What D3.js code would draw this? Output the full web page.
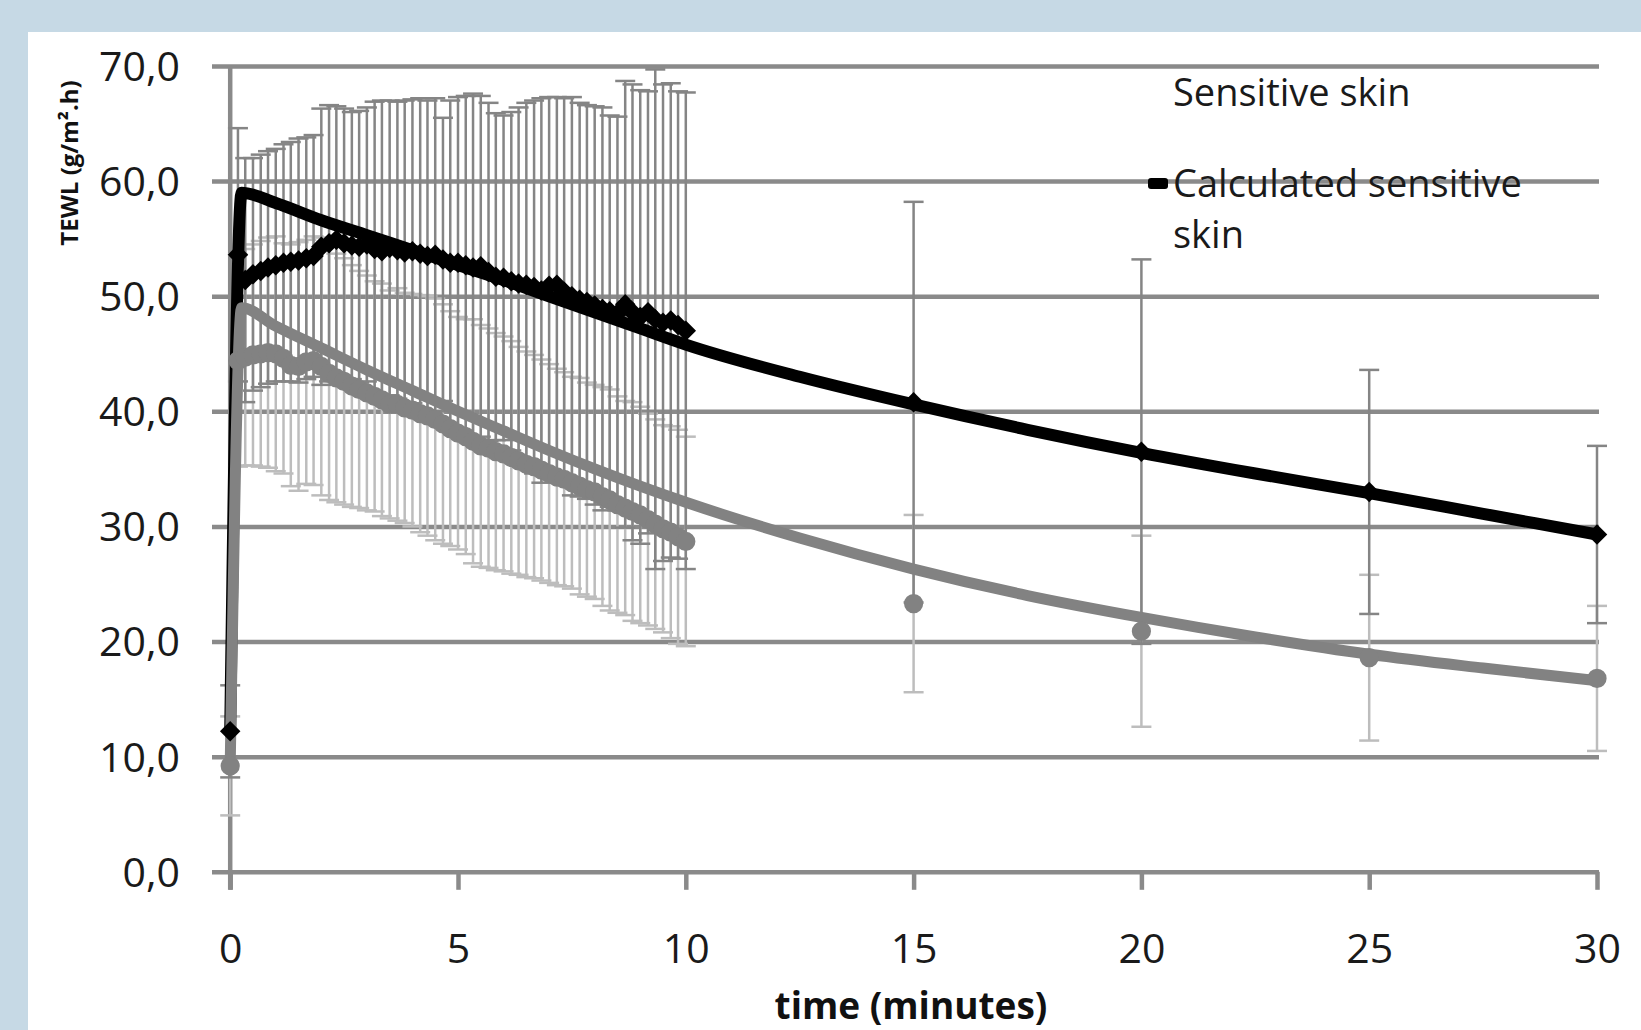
<!DOCTYPE html>
<html>
<head>
<meta charset="utf-8">
<script src="https://cdn.jsdelivr.net/npm/d3@7"></script>
<style>
  html, body { margin: 0; padding: 0; background: #c6d9e5; overflow: hidden; }
  svg { display: block; }
</style>
</head>
<body>
<svg id="chart" width="1641" height="1030"></svg>
<script>
// ---------- DATA ----------
const measTime = [0,0.17,0.33,0.5,0.67,0.83,1,1.17,1.33,1.5,1.67,1.83,2,2.17,2.33,2.5,2.67,2.83,3,3.17,3.33,3.5,3.67,3.83,4,4.17,4.33,4.5,4.67,4.83,5,5.17,5.33,5.5,5.67,5.83,6,6.17,6.33,6.5,6.67,6.83,7,7.17,7.33,7.5,7.67,7.83,8,8.17,8.33,8.5,8.67,8.83,9,9.17,9.33,9.5,9.67,9.83,10,15,20,25,30];

// measured sensitive skin (black diamonds) and its SD
const sensMean = [12.2,53.6,51.4,51.9,52.2,52.5,52.7,52.9,53.0,53.1,53.3,53.5,54.3,54.6,54.9,54.6,54.4,54.3,54.5,54.1,53.9,54.2,54.0,53.8,53.9,53.7,53.5,53.6,53.2,52.9,52.9,52.7,52.5,52.6,52.1,51.7,51.6,51.3,51.1,51.0,50.8,50.5,50.9,51.0,50.4,50.0,49.7,49.5,49.2,48.9,48.7,48.5,49.3,48.6,48.2,48.6,48.0,47.7,47.9,47.5,47.0,40.8,36.5,33.0,29.3];
const sensSD = [4.0,11.0,10.6,10.1,10.1,10.1,10.1,10.3,10.4,10.6,10.5,10.5,12.0,12.0,11.6,11.7,11.6,11.8,11.9,12.8,13.1,12.8,12.9,13.2,13.2,13.5,13.5,13.6,12.3,14.1,14.4,14.7,15.1,14.8,14.7,14.2,14.1,14.7,15.3,15.8,16.2,16.7,16.4,16.3,16.8,17.3,17.1,17.1,17.3,17.5,17.0,17.1,19.4,19.8,19.7,19.2,21.7,20.7,20.6,20.3,20.7,17.4,16.7,10.6,7.7];

// measured grey series (grey circles) and its SD
const greyMean = [9.2,44.4,44.7,44.9,45.0,45.1,45.0,44.6,44.0,43.9,44.3,44.4,43.9,43.3,42.9,42.6,42.2,41.9,41.6,41.3,41.0,40.6,40.6,40.3,40.1,39.8,39.6,39.3,38.9,38.5,38.1,37.8,37.4,37.0,36.8,36.5,36.3,36.0,35.7,35.4,35.2,34.9,34.6,34.3,34.1,33.8,33.5,33.2,33.0,32.6,32.3,31.9,31.6,31.3,31.0,30.6,30.2,29.8,29.5,29.1,28.7,23.3,20.9,18.6,16.8];
const greySD = [4.3,9.2,9.4,9.6,9.8,10.0,10.2,10.0,10.5,10.8,10.6,10.8,11.2,11.0,10.8,10.7,10.5,10.3,10.2,10.0,10.1,9.9,10.1,10.0,10.1,10.3,10.4,10.5,10.4,10.2,10.1,10.2,10.6,10.5,10.4,10.3,10.2,10.1,9.9,9.8,9.7,9.6,9.5,9.4,9.3,9.2,9.4,9.3,9.3,9.5,9.6,9.4,9.3,9.5,9.4,9.2,9.1,9.0,9.2,9.3,9.1,7.7,8.3,7.2,6.3];

// calculated curves
const calcTime = [0,0.25,1,2,3,4,5,6,7,8,9,10,12.5,15,17.5,20,22.5,25,27.5,30];
const calcSens = [12.2,59.0,58.1,56.6,55.3,54.0,52.7,51.4,50.0,48.6,47.2,45.8,43.0,40.6,38.4,36.4,34.6,32.9,31.1,29.3];
const calcGrey = [9.2,49.0,47.4,45.5,43.6,41.8,40.0,38.3,36.6,35.0,33.5,32.1,29.0,26.3,24.0,22.1,20.4,18.9,17.7,16.6];

const xTickValues = [0,5,10,15,20,25,30];
const yTickValues = [0,10,20,30,40,50,60,70];
const legendEntries = ["Sensitive skin", "Calculated sensitive skin"];
const xTitle = "time (minutes)";
const yTitle = "TEWL (g/m\u00B2.h)";

// ---------- DRAW ----------
const svg = d3.select("#chart");
const FONT = "'Open Sans', 'Noto Sans', sans-serif";
const GRID = "#8a8a8a";

svg.append("rect").attr("x", 0).attr("y", 0).attr("width", 1641).attr("height", 1030).attr("fill", "#c6d9e5");
svg.append("rect").attr("x", 28).attr("y", 32).attr("width", 1613).attr("height", 998).attr("fill", "#ffffff");

const x = d3.scaleLinear().domain([0, 30]).range([230.2, 1597]);
const y = d3.scaleLinear().domain([0, 70]).range([871.8, 66]);

const fmt = v => d3.format(".1f")(v).replace(".", ",");

// horizontal gridlines + y tick labels
const yAxis = d3.axisLeft(y).tickValues(yTickValues).tickSize(-(1599 - 212)).tickPadding(32).tickFormat(fmt);
const gy = svg.append("g").attr("transform", "translate(212,0)").call(yAxis);
gy.select(".domain").remove();
gy.selectAll(".tick line").attr("stroke", GRID).attr("stroke-width", 4.5);
gy.selectAll(".tick text").attr("font-family", FONT).attr("font-size", 41).attr("fill", "#1a1a1a").attr("dy", "0.35em");

// x ticks + labels
const xAxis = d3.axisBottom(x).tickValues(xTickValues).tickSize(18).tickPadding(44).tickFormat(d3.format("d"));
const gx = svg.append("g").attr("transform", `translate(0,${y(0)})`).call(xAxis);
gx.select(".domain").remove();
gx.selectAll(".tick line").attr("stroke", GRID).attr("stroke-width", 4.5);
gx.selectAll(".tick text").attr("font-family", FONT).attr("font-size", 41).attr("fill", "#1a1a1a");

// y axis vertical line
svg.append("line").attr("x1", x(0)).attr("x2", x(0)).attr("y1", y(70)).attr("y2", y(0) + 18)
  .attr("stroke", GRID).attr("stroke-width", 4.5);

// error bars
function errorBars(means, sds, color, width) {
  const g = svg.append("g").attr("stroke", color).attr("stroke-width", width);
  const cap = 10;
  measTime.forEach((t, i) => {
    const cx = x(t), lo = y(means[i] - sds[i]), hi = y(means[i] + sds[i]);
    g.append("line").attr("x1", cx).attr("x2", cx).attr("y1", lo).attr("y2", hi);
    g.append("line").attr("x1", cx - cap).attr("x2", cx + cap).attr("y1", lo).attr("y2", lo);
    g.append("line").attr("x1", cx - cap).attr("x2", cx + cap).attr("y1", hi).attr("y2", hi);
  });
}
errorBars(greyMean, greySD, "#bdbdbd", 2.5);
errorBars(sensMean, sensSD, "#858585", 2.5);

// calculated lines
const line = d3.line().x(d => x(d[0])).y(d => y(d[1])).curve(d3.curveMonotoneX);
svg.append("path").datum(calcTime.map((t, i) => [t, calcSens[i]]))
  .attr("d", line).attr("fill", "none").attr("stroke", "#000").attr("stroke-width", 12)
  .attr("stroke-linejoin", "round").attr("stroke-linecap", "round");
svg.append("path").datum(calcTime.map((t, i) => [t, calcGrey[i]]))
  .attr("d", line).attr("fill", "none").attr("stroke", "#828282").attr("stroke-width", 11)
  .attr("stroke-linejoin", "round").attr("stroke-linecap", "round");

// markers
const circ = d3.symbol().type(d3.symbolCircle).size(290);
svg.append("g").selectAll("path").data(measTime).join("path")
  .attr("d", circ).attr("fill", "#828282")
  .attr("transform", (t, i) => `translate(${x(t)},${y(greyMean[i])})`);
const diam = d3.symbol().type(d3.symbolSquare).size(210);
svg.append("g").selectAll("path").data(measTime).join("path")
  .attr("d", diam).attr("fill", "#000")
  .attr("transform", (t, i) => `translate(${x(t)},${y(sensMean[i])}) rotate(45)`);

// legend
svg.append("text").attr("x", 1173).attr("y", 106).attr("font-family", FONT).attr("font-size", 38)
  .attr("fill", "#1a1a1a").text(legendEntries[0]);
svg.append("rect").attr("x", 1148).attr("y", 178).attr("width", 20).attr("height", 11).attr("rx", 3)
  .attr("fill", "#000");
const words = legendEntries[1].split(" ");
const lt = svg.append("text").attr("font-family", FONT).attr("font-size", 38).attr("fill", "#1a1a1a");
lt.append("tspan").attr("x", 1173).attr("y", 197).text(words.slice(0, 2).join(" "));
lt.append("tspan").attr("x", 1173).attr("y", 248).text(words.slice(2).join(" "));

// axis titles
svg.append("text").attr("x", 911).attr("y", 1019).attr("text-anchor", "middle")
  .attr("font-family", FONT).attr("font-weight", "bold").attr("font-size", 37).attr("fill", "#111")
  .text(xTitle);
svg.append("text").attr("transform", "translate(78,163) rotate(-90)").attr("text-anchor", "middle")
  .attr("font-family", FONT).attr("font-weight", "bold").attr("font-size", 24).attr("fill", "#111")
  .text(yTitle);
</script>
</body>
</html>
